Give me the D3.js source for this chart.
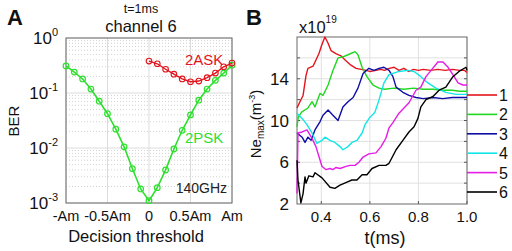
<!DOCTYPE html>
<html><head><meta charset="utf-8">
<script src="https://cdn.jsdelivr.net/npm/d3@7"></script>
<style>body{margin:0;background:#fff}svg{display:block}text{font-family:"Liberation Sans",Arial,sans-serif}</style>
</head><body>
<svg id="c" width="512" height="251"></svg>
<script>
// ---------- Panel A data ----------
const pskThreshold = [-1,-0.9,-0.8,-0.7,-0.6,-0.5,-0.4,-0.3,-0.2,-0.1,0,0.1,0.2,0.3,0.4,0.5,0.6,0.7,0.8,0.9,1];
const pskBER = [0.31,0.24,0.18,0.118,0.071,0.042,0.022,0.0105,0.0042,0.0018,0.0011,0.0019,0.004,0.0096,0.021,0.04,0.074,0.118,0.17,0.23,0.32];
const askThreshold = [0,0.1,0.2,0.3,0.4,0.5,0.6,0.7,0.8,0.9,1];
const askBER = [0.38,0.34,0.27,0.22,0.18,0.16,0.165,0.19,0.23,0.30,0.35];
const xTicksA = [-1,-0.5,0,0.5,1];
const xTickLabelsA = ["-Am","-0.5Am","0","0.5Am","Am"];
const yTicksA = [1e-3,1e-2,1e-1,1];
const yTickExpA = ["-3","-2","-1","0"];

// ---------- Panel B data ----------
const neRed = [[0.300,11.2],[0.312,11.8],[0.325,12.4],[0.337,14.3],[0.345,15.0],[0.366,15.2],[0.378,15.8],[0.39,16.4],[0.403,17.3],[0.415,18.0],[0.428,17.4],[0.44,16.7],[0.46,16.4],[0.481,16.2],[0.498,15.8],[0.522,15.3],[0.543,15.0],[0.565,14.9],[0.584,14.8],[0.60,14.7],[0.625,14.8],[0.645,14.9],[0.66,14.8],[0.68,15.0],[0.70,15.1],[0.72,14.8],[0.74,15.0],[0.76,14.7],[0.78,14.9],[0.80,14.8],[0.82,14.9],[0.85,14.8],[0.88,14.9],[0.91,14.8],[0.94,14.9],[0.97,14.8],[0.99,14.8],[1.0,14.6]];
const neGreen = [[0.300,9.4],[0.305,10.3],[0.319,10.8],[0.345,11.2],[0.362,11.8],[0.374,11.3],[0.395,12.6],[0.407,12.4],[0.428,13.4],[0.448,14.8],[0.469,16.0],[0.489,16.1],[0.51,16.3],[0.539,16.6],[0.551,16.3],[0.568,15.1],[0.588,14.2],[0.613,13.4],[0.638,13.1],[0.66,13.0],[0.70,13.1],[0.74,13.0],[0.78,13.1],[0.82,13.0],[0.86,13.0],[0.90,12.9],[0.94,12.9],[0.97,12.8],[1.0,12.8]];
const neBlue = [[0.300,8.8],[0.321,8.4],[0.333,7.9],[0.345,8.4],[0.358,8.1],[0.374,9.1],[0.395,9.9],[0.407,10.5],[0.428,11.0],[0.448,10.5],[0.469,10.0],[0.489,11.3],[0.51,11.8],[0.531,12.2],[0.551,13.1],[0.572,14.5],[0.596,15.0],[0.617,14.8],[0.638,15.0],[0.658,15.1],[0.679,14.8],[0.695,14.2],[0.708,13.2],[0.736,12.7],[0.761,12.4],[0.79,12.2],[0.82,12.1],[0.86,12.2],[0.90,12.1],[0.94,12.2],[1.0,12.2]];
const neCyan = [[0.300,10.7],[0.321,10.2],[0.341,9.6],[0.362,8.8],[0.382,7.8],[0.403,8.1],[0.415,8.4],[0.436,8.1],[0.456,7.9],[0.477,7.5],[0.489,7.2],[0.51,7.5],[0.526,7.9],[0.547,8.1],[0.568,8.8],[0.58,9.6],[0.60,10.3],[0.621,10.8],[0.638,12.0],[0.658,13.6],[0.679,14.4],[0.72,14.7],[0.757,14.8],[0.782,14.7],[0.81,14.2],[0.839,13.6],[0.872,13.1],[0.913,12.7],[0.955,12.5],[1.0,12.5]];
const neMagenta = [[0.300,3.0],[0.304,8.8],[0.321,8.9],[0.341,9.1],[0.354,8.6],[0.366,8.1],[0.378,7.5],[0.391,6.5],[0.403,5.6],[0.419,5.3],[0.436,5.4],[0.448,5.3],[0.46,5.5],[0.477,5.4],[0.502,5.6],[0.518,5.7],[0.539,5.7],[0.555,6.0],[0.572,6.5],[0.596,6.8],[0.625,6.9],[0.646,7.5],[0.666,8.3],[0.679,9.3],[0.695,9.8],[0.72,10.7],[0.761,11.7],[0.79,12.9],[0.81,13.2],[0.831,14.2],[0.852,14.8],[0.88,15.6],[0.901,15.6],[0.922,15.1],[0.942,14.4],[0.963,13.6],[0.983,13.4],[1.0,13.4]];
const neBlack = [[0.300,6.2],[0.304,4.3],[0.316,2.1],[0.325,3.0],[0.333,4.6],[0.337,4.0],[0.349,4.7],[0.366,4.6],[0.374,5.0],[0.403,4.5],[0.436,3.6],[0.456,3.5],[0.477,3.8],[0.506,4.1],[0.526,4.3],[0.547,4.3],[0.568,4.8],[0.588,4.8],[0.609,5.4],[0.638,5.7],[0.666,5.7],[0.679,5.9],[0.708,7.2],[0.736,8.1],[0.761,8.9],[0.782,9.4],[0.798,10.2],[0.81,11.3],[0.831,12.0],[0.86,12.3],[0.885,12.9],[0.913,13.2],[0.942,14.2],[0.967,14.7],[0.996,15.1],[1.0,14.8]];
const seriesB = [neRed, neGreen, neBlue, neCyan, neMagenta, neBlack];
const legendLabels = ["1","2","3","4","5","6"];
const colorsB = ["#e3141c","#1fd81f","#0d0da6","#10e6e6","#e51ce5","#000000"];
const xTicksB = [0.4,0.6,0.8,1.0];
const xTickLabelsB = ["0.4","0.6","0.8","1.0"];
const yTicksB = [2,6,10,14];
const yGridB = [4,6,8,10,12,14,16];

const svg = d3.select("#c");
svg.append("rect").attr("width",512).attr("height",251).attr("fill","#fff");

// ===== Panel A =====
const A = {l:66,r:232,t:38,b:203};
const xA = d3.scaleLinear().domain([-1,1]).range([A.l,A.r]);
const yA = d3.scaleLog().domain([1e-3,1]).range([A.b,A.t]);
const gA = svg.append("g");
const minorA = [];
[-3,-2,-1].forEach(e=>{for(let k=2;k<=9;k++) minorA.push(k*Math.pow(10,e));});
gA.selectAll(".mg").data(minorA).enter().append("line")
  .attr("x1",A.l).attr("x2",A.r).attr("y1",d=>yA(d)).attr("y2",d=>yA(d))
  .attr("stroke","#c8c8c8").attr("stroke-width",0.8).attr("stroke-dasharray","1,2");
gA.selectAll(".gy").data(yTicksA).enter().append("line")
  .attr("x1",A.l).attr("x2",A.r).attr("y1",d=>yA(d)).attr("y2",d=>yA(d))
  .attr("stroke","#dcdcdc").attr("stroke-width",1);
gA.selectAll(".gx").data(xTicksA).enter().append("line")
  .attr("x1",d=>xA(d)).attr("x2",d=>xA(d)).attr("y1",A.t).attr("y2",A.b)
  .attr("stroke","#dcdcdc").attr("stroke-width",1);
gA.append("rect").attr("x",A.l).attr("y",A.t).attr("width",A.r-A.l).attr("height",A.b-A.t)
  .attr("fill","none").attr("stroke","#6a6a6a").attr("stroke-width",1);
const lineA = d3.line().x(d=>xA(d[0])).y(d=>yA(d[1]));
const pskData = pskThreshold.map((x,i)=>[x,pskBER[i]]);
const askData = askThreshold.map((x,i)=>[x,askBER[i]]);
gA.append("path").datum(pskData).attr("d",lineA).attr("fill","none").attr("stroke","#2ee02e").attr("stroke-width",1.6);
gA.selectAll(".pc").data(pskData).enter().append("circle")
  .attr("cx",d=>xA(d[0])).attr("cy",d=>yA(d[1])).attr("r",2.8)
  .attr("fill","none").attr("stroke","#2ee02e").attr("stroke-width",1.2);
gA.append("path").datum(askData).attr("d",lineA).attr("fill","none").attr("stroke","#e3141c").attr("stroke-width",1.4);
gA.selectAll(".ac").data(askData).enter().append("circle")
  .attr("cx",d=>xA(d[0])).attr("cy",d=>yA(d[1])).attr("r",2.8)
  .attr("fill","none").attr("stroke","#e3141c").attr("stroke-width",1.1);
gA.selectAll(".xl").data(xTicksA).enter().append("text")
  .attr("x",d=>xA(d)).attr("y",221).attr("text-anchor","middle")
  .attr("font-size",14.5).attr("fill","#111").text((d,i)=>xTickLabelsA[i]);
yTicksA.forEach((v,i)=>{
  const t = gA.append("text").attr("x",58).attr("y",yA(v)+6).attr("text-anchor","end").attr("fill","#111");
  t.append("tspan").attr("font-size",17).text("10");
  t.append("tspan").attr("font-size",11).attr("dy",-8).text(yTickExpA[i]);
});
gA.append("text").attr("x",136).attr("y",242).attr("text-anchor","middle").attr("font-size",16.5).attr("fill","#111").text("Decision threshold");
gA.append("text").attr("transform","translate(19,121) rotate(-90)").attr("text-anchor","middle").attr("font-size",15).attr("fill","#111").text("BER");
gA.append("text").attr("x",141).attr("y",13).attr("text-anchor","middle").attr("font-size",12.5).attr("fill","#111").text("t=1ms");
gA.append("text").attr("x",141).attr("y",32).attr("text-anchor","middle").attr("font-size",16.5).attr("fill","#111").text("channel 6");
gA.append("text").attr("x",7).attr("y",25).attr("font-size",22).attr("font-weight","bold").attr("fill","#111").text("A");
gA.append("text").attr("x",185).attr("y",65).attr("font-size",15).attr("fill","#e3141c").text("2ASK");
gA.append("text").attr("x",185).attr("y",143).attr("font-size",15).attr("fill","#2ee02e").text("2PSK");
gA.append("text").attr("x",227).attr("y",193).attr("text-anchor","end").attr("font-size",14).attr("fill","#222").text("140GHz");

// ===== Panel B =====
const B = {l:297,r:467,t:37,b:204};
const xB = d3.scaleLinear().domain([0.3,1.0]).range([B.l,B.r]);
const yB = d3.scaleLinear().domain([2,18]).range([B.b,B.t]);
const gB = svg.append("g");
gB.selectAll(".gy").data(yGridB).enter().append("line")
  .attr("x1",B.l).attr("x2",B.r).attr("y1",d=>yB(d)).attr("y2",d=>yB(d))
  .attr("stroke","#e0e0e0").attr("stroke-width",1);
gB.selectAll(".gx").data(xTicksB).enter().append("line")
  .attr("x1",d=>xB(d)).attr("x2",d=>xB(d)).attr("y1",B.t).attr("y2",B.b)
  .attr("stroke","#e0e0e0").attr("stroke-width",1);
gB.selectAll(".tl").data(yGridB).enter().append("line")
  .attr("x1",B.l).attr("x2",B.l+3).attr("y1",d=>yB(d)).attr("y2",d=>yB(d)).attr("stroke","#555");
gB.selectAll(".tr").data(yGridB).enter().append("line")
  .attr("x1",B.r-3).attr("x2",B.r).attr("y1",d=>yB(d)).attr("y2",d=>yB(d)).attr("stroke","#555");
gB.selectAll(".tb").data(xTicksB).enter().append("line")
  .attr("x1",d=>xB(d)).attr("x2",d=>xB(d)).attr("y1",B.b-3).attr("y2",B.b).attr("stroke","#555");
gB.append("rect").attr("x",B.l).attr("y",B.t).attr("width",B.r-B.l).attr("height",B.b-B.t)
  .attr("fill","none").attr("stroke","#6a6a6a").attr("stroke-width",1);
const lineB = d3.line().x(d=>xB(d[0])).y(d=>yB(d[1]));
seriesB.forEach((s,i)=>{
  gB.append("path").datum(s).attr("d",lineB).attr("fill","none")
    .attr("stroke",colorsB[i]).attr("stroke-width",1.4).attr("stroke-linejoin","round");
});
legendLabels.forEach((lab,i)=>{
  const y = 95 + i*19.4;
  gB.append("line").attr("x1",467).attr("x2",497).attr("y1",y).attr("y2",y).attr("stroke",colorsB[i]).attr("stroke-width",1.6);
  gB.append("text").attr("x",499).attr("y",y+6).attr("font-size",16).attr("fill","#111").text(lab);
});
gB.selectAll(".xl").data(xTicksB).enter().append("text")
  .attr("x",d=>xB(d)).attr("y",222).attr("text-anchor","middle")
  .attr("font-size",15).attr("fill","#111").text((d,i)=>xTickLabelsB[i]);
gB.selectAll(".yl").data(yTicksB).enter().append("text")
  .attr("x",289).attr("y",d=>yB(d)+6).attr("text-anchor","end")
  .attr("font-size",17).attr("fill","#111").text(d=>d);
gB.append("text").attr("x",385).attr("y",244).attr("text-anchor","middle").attr("font-size",18).attr("fill","#111").text("t(ms)");
const ex = gB.append("text").attr("x",299).attr("y",33).attr("fill","#111");
ex.append("tspan").attr("font-size",16.5).text("x10");
ex.append("tspan").attr("font-size",10).attr("dy",-10).text("19");
const yl = gB.append("text").attr("transform","translate(261,124) rotate(-90)").attr("text-anchor","middle").attr("fill","#111");
yl.append("tspan").attr("font-size",15).text("Ne");
yl.append("tspan").attr("font-size",10).attr("dy",3).text("max");
yl.append("tspan").attr("font-size",15).attr("dy",-3).text("(m");
yl.append("tspan").attr("font-size",9).attr("dy",-6).text("-3");
yl.append("tspan").attr("font-size",15).attr("dy",6).text(")");
gB.append("text").attr("x",246).attr("y",25).attr("font-size",22).attr("font-weight","bold").attr("fill","#111").text("B");
</script>
</body></html>
